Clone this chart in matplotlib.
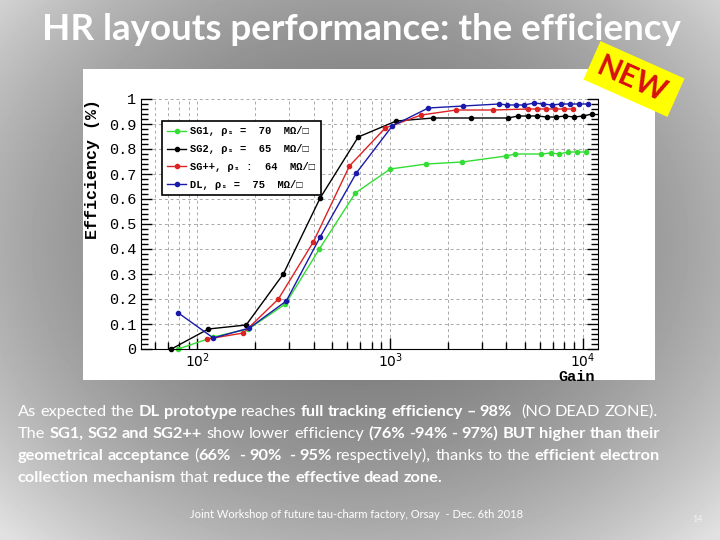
import numpy as np
import matplotlib
matplotlib.use("Agg")
import matplotlib.pyplot as plt
from matplotlib.patches import Rectangle
from matplotlib.lines import Line2D
from matplotlib.transforms import IdentityTransform
from matplotlib.ticker import FixedLocator, MultipleLocator, FuncFormatter, NullFormatter
from matplotlib.font_manager import FontProperties

plt.rcParams['mathtext.fontset'] = 'custom'
plt.rcParams['mathtext.rm'] = 'Liberation Mono'

W, H = 720, 540
MONO = ['Liberation Mono', 'DejaVu Sans Mono']

# efficiency vs gain
gain_sg1 = [79.7, 121, 184, 286, 429, 659, 1000, 1538, 2360, 3995, 4443, 6058, 6822, 7510, 8360, 9310, 10370]
eff_sg1 = [0.0, 0.048, 0.08, 0.18, 0.40, 0.624, 0.72, 0.74, 0.748, 0.772, 0.78, 0.78, 0.784, 0.78, 0.788, 0.788, 0.788]

gain_sg2 = [73.3, 114, 179, 279, 433, 682, 1074, 1671, 2630, 4085, 4604, 5185, 5778, 6505, 7245, 8070, 8980, 10000, 11140]
eff_sg2 = [0.0, 0.08, 0.096, 0.30, 0.604, 0.848, 0.912, 0.924, 0.924, 0.924, 0.932, 0.932, 0.932, 0.928, 0.928, 0.932, 0.928, 0.932, 0.94]

gain_sgpp = [112.7, 173, 263, 399, 614, 942, 1449, 2198, 3420, 5185, 5778, 6430, 7160, 7980, 8880]
eff_sgpp = [0.04, 0.064, 0.2, 0.428, 0.732, 0.884, 0.936, 0.956, 0.956, 0.96, 0.96, 0.96, 0.96, 0.96, 0.96]

gain_dl = [79.7, 121, 186, 289, 433, 667, 1024, 1574, 2389, 3675, 4040, 4497, 4943, 5572, 6204, 6900, 7690, 8570, 9530, 10620]
eff_dl = [0.144, 0.044, 0.084, 0.192, 0.448, 0.704, 0.892, 0.964, 0.972, 0.98, 0.976, 0.976, 0.976, 0.984, 0.98, 0.976, 0.98, 0.98, 0.98, 0.98]

labels = ["SG1, ρₛ =  70  MΩ/□", "SG2, ρₛ =  65  MΩ/□", "SG++, ρₛ :  64  MΩ/□", "DL, ρₛ =  75  MΩ/□"]
colors = ['#33dd33', 'black', '#dd2222', '#1a1aaa']

title = "HR layouts performance: the efficiency"
body = [
    [("As expected the ", 0), ("DL prototype", 1), (" reaches ", 0),
     ("full tracking efficiency – 98%", 1), ("  (NO DEAD ZONE).", 0)],
    [("The ", 0), ("SG1, SG2 and SG2++", 1), (" show lower efficiency ", 0),
     ("(76% -94% - 97%) BUT higher than their", 1)],
    [("geometrical acceptance", 1), (" (", 0), ("66%  - 90%  - 95%", 1),
     (" respectively), thanks to the ", 0), ("efficient electron", 1)],
    [("collection mechanism", 1), (" that ", 0), ("reduce the effective dead zone.", 1)],
]
footer = "Joint Workshop of future tau-charm factory, Orsay  - Dec. 6th 2018"
page = "14"


def px(x, y):
    return x, H - y


def rich_line(fig, x, y, parts, size):
    r = fig.canvas.get_renderer()
    for txt, bold in parts:
        w = 'bold' if bold else 'normal'
        a = fig.text(0, 0, 'x x', fontsize=size, family='Lato', fontweight=w)
        b = fig.text(0, 0, 'xx', fontsize=size, family='Lato', fontweight=w)
        sp = a.get_window_extent(r).width - b.get_window_extent(r).width
        a.remove()
        b.remove()
        for i, word in enumerate(txt.split(' ')):
            if i > 0:
                x += sp
            if word:
                t = fig.text(*px(x, y), word, fontsize=size, family='Lato', fontweight=w,
                             color='white', va='baseline', transform=IdentityTransform())
                x += t.get_window_extent(r).width


fig = plt.figure(figsize=(7.2, 5.4), dpi=100)

# grey slide background
bg = fig.add_axes([0, 0, 1, 1], zorder=0)
yy, xx = np.mgrid[0:1:270j, 0:1:360j]
r2 = ((xx - 0.5) / 0.6) ** 2 + ((yy - 0.45) / 0.65) ** 2
bg.imshow(np.clip(0.47 + 0.3 * r2, 0.4, 0.88), cmap='gray', vmin=0, vmax=1, aspect='auto')
bg.axis('off')

# white chart panel
fig.patches.append(Rectangle(px(83, 380), 572, 311, transform=IdentityTransform(),
                             facecolor='white', edgecolor='none', zorder=0.5))

ax = fig.add_axes([141 / W, 1 - 349 / H, (597.7 - 141) / W, (349 - 99) / H], zorder=1)
ax.set_facecolor('none')
for g, e, c in zip([gain_sg1, gain_sg2, gain_sgpp, gain_dl], [eff_sg1, eff_sg2, eff_sgpp, eff_dl], colors):
    ax.plot(g, e, color=c, lw=1, marker='o', ms=3, clip_on=False)

ax.set_xscale('log')
ax.set_xlim(51, 11900)
ax.set_ylim(0, 1)
ax.xaxis.set_major_locator(FixedLocator([100, 1000, 10000]))
ax.xaxis.set_major_formatter(FuncFormatter(lambda v, p: r'$\mathregular{10^{%d}}$' % round(np.log10(v))))
ax.xaxis.set_minor_locator(FixedLocator([k * 10 ** d for d in (1, 2, 3) for k in range(2, 10)]))
ax.xaxis.set_minor_formatter(NullFormatter())
ax.yaxis.set_major_locator(MultipleLocator(0.1))
ax.yaxis.set_minor_locator(MultipleLocator(0.02))
ax.yaxis.set_major_formatter(FuncFormatter(lambda v, p: '0' if abs(v) < 1e-6 else ('1' if abs(v - 1) < 1e-6 else '%.1f' % v)))
ax.tick_params(which='both', direction='in', right=True, top=False, width=1)
ax.tick_params(which='major', length=8, labelsize=11)
ax.tick_params(which='minor', length=5)
ax.tick_params(axis='x', pad=2, labelsize=10)
for lab in ax.get_yticklabels():
    lab.set_family(MONO)
ax.spines['top'].set_visible(False)
ax.grid(True, which='major', axis='y', color='#a8a8a8', ls=(0, (3, 3)), lw=0.7)
ax.grid(True, which='both', axis='x', color='#a8a8a8', ls=(0, (3, 3)), lw=0.7)

handles = [Line2D([], [], color=c, lw=1, marker='o', ms=3) for c in colors]
leg = fig.legend(handles, labels, loc='upper left', bbox_to_anchor=(157 / W, 1 - 116 / H),
                 prop=FontProperties(family=MONO, weight='bold', size=7.5),
                 frameon=True, fancybox=False, framealpha=1, edgecolor='black',
                 borderpad=0.5, labelspacing=0.75, handlelength=1.8, handletextpad=0.4)
leg.get_frame().set_linewidth(1.2)
leg.set_zorder(2)

fig.text(*px(93, 169), "Efficiency (%)", rotation=90, ha='center', va='center', family=MONO,
         fontweight='bold', fontsize=12, transform=IdentityTransform())
fig.text(*px(577, 377), "Gain", ha='center', va='center', family=MONO,
         fontweight='bold', fontsize=11, transform=IdentityTransform())

# NEW badge
fig.patches.append(Rectangle(px(588, 100), 92, 42, angle=-24, rotation_point='center',
                             transform=IdentityTransform(), facecolor='#ffff00', edgecolor='none', zorder=3))
fig.text(*px(632, 80), "NEW", rotation=-24, ha='center', va='center', color='#d81010',
         family='Lato', fontweight='bold', fontsize=22, transform=IdentityTransform(), zorder=4)

fig.text(*px(361, 30), title, ha='center', va='center', color='white', family='Lato',
         fontweight='bold', fontsize=26.5, transform=IdentityTransform())

for i, parts in enumerate(body):
    rich_line(fig, 18, 416 + 22 * i, parts, 11.8)

fig.text(*px(356, 518), footer, ha='center', va='baseline', color='white', family='Lato',
         fontsize=8, transform=IdentityTransform())
fig.text(*px(698, 522), page, ha='center', va='baseline', color='#f0f0f0', family='Lato',
         fontsize=6.5, transform=IdentityTransform())

fig.savefig("out.png", dpi=100)
